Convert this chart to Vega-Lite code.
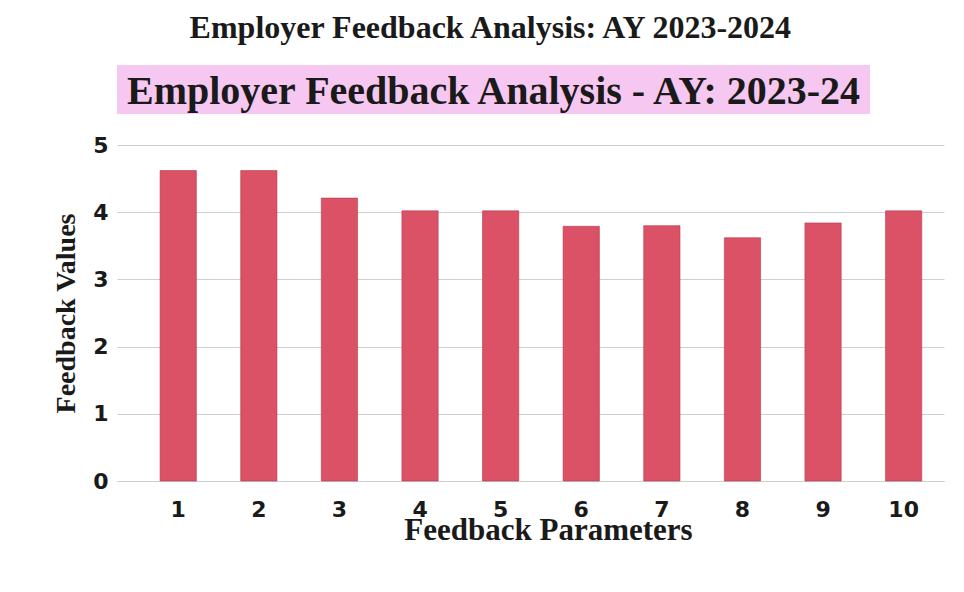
{
  "$schema": "https://vega.github.io/schema/vega-lite/v6.json",
  "background": "white",
  "padding": {"top": 12, "left": 52, "right": 10, "bottom": 5},
  "title": {
    "text": "Employer Feedback Analysis: AY 2023-2024",
    "anchor": "middle",
    "font": "Liberation Serif",
    "fontWeight": "bold",
    "fontSize": 32,
    "color": "#1a1a1a",
    "offset": 20,
    "dx": -8
  },
  "spacing": 20,
  "config": {
    "view": {"stroke": null},
    "axis": {
      "labelFont": "DejaVu Sans",
      "labelFontWeight": "bold",
      "labelFontSize": 22,
      "labelColor": "#1a1a1a",
      "titleFont": "Liberation Serif",
      "titleFontWeight": "bold",
      "titleFontSize": 30,
      "titleColor": "#1a1a1a"
    }
  },
  "vconcat": [
    {
      "width": 753,
      "height": 49,
      "view": {"fill": "#f6c8f1", "stroke": null},
      "data": {"values": [{"heading": "Employer Feedback Analysis - AY: 2023-24"}]},
      "mark": {
        "type": "text",
        "font": "Liberation Serif",
        "fontWeight": "bold",
        "fontSize": 40,
        "color": "#1a1a1a",
        "align": "center",
        "baseline": "middle",
        "dy": 2
      },
      "encoding": {"text": {"field": "heading", "type": "nominal"}}
    },
    {
      "width": 827,
      "height": 336,
      "data": {
        "values": [
          {"parameter": "1", "value": 4.62},
          {"parameter": "2", "value": 4.62},
          {"parameter": "3", "value": 4.21},
          {"parameter": "4", "value": 4.02},
          {"parameter": "5", "value": 4.02},
          {"parameter": "6", "value": 3.79},
          {"parameter": "7", "value": 3.8},
          {"parameter": "8", "value": 3.62},
          {"parameter": "9", "value": 3.84},
          {"parameter": "10", "value": 4.02}
        ]
      },
      "mark": {"type": "bar", "color": "#db5166", "stroke": "#b53a4e", "strokeWidth": 0.6},
      "encoding": {
        "x": {
          "field": "parameter",
          "type": "ordinal",
          "sort": null,
          "scale": {"paddingInner": 0.55, "paddingOuter": 0.405, "align": 0.66},
          "axis": {
            "title": "Feedback Parameters",
            "titleFontSize": 31,
            "titleX": 431,
            "labelAngle": 0,
            "ticks": false,
            "domainColor": "#cfcfcf",
            "labelPadding": 18,
            "titlePadding": -5
          }
        },
        "y": {
          "field": "value",
          "type": "quantitative",
          "scale": {"domain": [0, 5]},
          "axis": {
            "title": "Feedback Values",
            "titleFontSize": 28,
            "values": [0, 1, 2, 3, 4, 5],
            "ticks": false,
            "domain": false,
            "gridColor": "#cfcfcf",
            "gridWidth": 1,
            "labelPadding": 9,
            "titlePadding": 12
          }
        }
      }
    }
  ]
}
